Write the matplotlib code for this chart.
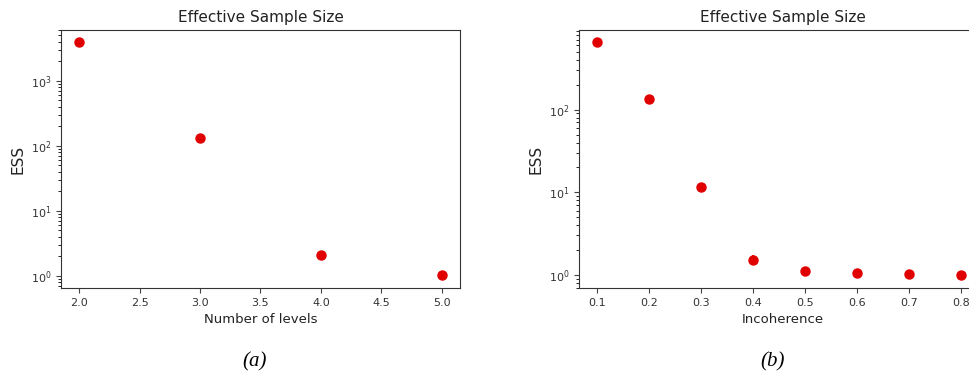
import matplotlib
matplotlib.use("Agg")
import matplotlib.pyplot as plt

# panel (a): ESS vs number of levels
levels = [2.0, 3.0, 4.0, 5.0]
ess_levels = [4000, 133, 2.1, 1.03]
err_levels = [0, 0, 0.3, 0.05]

# panel (b): ESS vs incoherence
incoherence = [0.1, 0.2, 0.3, 0.4, 0.5, 0.6, 0.7, 0.8]
ess_incoh = [665, 136, 11.5, 1.52, 1.12, 1.06, 1.03, 0.99]
err_incoh = [0, 0, 0, 0.2, 0.05, 0.04, 0.03, 0.03]

fig = plt.figure(figsize=(9.7, 3.78), dpi=100)
ax1 = fig.add_axes([0.0629, 0.2381, 0.4113, 0.6825])
# right panel runs off the edge of the figure, as in the original
ax2 = fig.add_axes([0.5969, 0.2381, 0.42, 0.6825])


def draw(ax, x, y, e, xlabel):
    ax.errorbar(x, y, yerr=e, fmt='o', color='#e00000', ecolor='#e00000',
                markersize=6.5, elinewidth=1.5)
    ax.set_yscale('log')
    ax.set_title("Effective Sample Size", fontsize=11, color='#222222')
    ax.set_xlabel(xlabel, fontsize=9.5, color='#222222')
    ax.set_ylabel("ESS", fontsize=11, color='#222222')
    ax.tick_params(labelsize=8, labelcolor='#333333', color='#444444')
    for s in ax.spines.values():
        s.set_color('#333333')


draw(ax1, levels, ess_levels, err_levels, "Number of levels")
draw(ax2, incoherence, ess_incoh, err_incoh, "Incoherence")
ax2.set_xlim(0.065, 0.849)

fig.text(255 / 970, 1 - 362 / 378, "(a)", ha='center', va='center',
         fontsize=15, style='italic', family='Liberation Serif')
fig.text(773 / 970, 1 - 362 / 378, "(b)", ha='center', va='center',
         fontsize=15, style='italic', family='Liberation Serif')

fig.savefig("out.png", dpi=100)
